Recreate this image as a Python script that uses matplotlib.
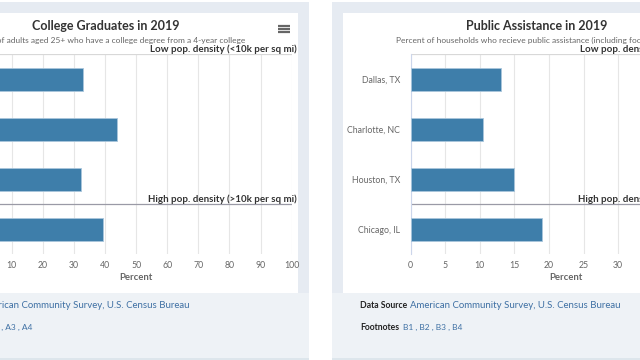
import matplotlib.pyplot as plt
from matplotlib.patches import Rectangle
from matplotlib.transforms import offset_copy

plt.rcParams['font.family'] = ['Lato', 'DejaVu Sans']

cities = ['Dallas, TX', 'Charlotte, NC', 'Houston, TX', 'Chicago, IL']
college = [33.0, 44.0, 32.4, 39.3]
assistance = [13.1, 10.4, 14.9, 19.0]
college_ticks = list(range(0, 101, 10))
assist_ticks = list(range(0, 46, 5))

BAR = '#3e7eaa'
GREY = '#666666'
DARK = '#333333'
LINK = '#3d6fa3'

fig = plt.figure(figsize=(6.4, 3.6), dpi=100)
fig.patch.set_facecolor('white')

# background layer in pixel coords (y down)
bg = fig.add_axes([0, 0, 1, 1], zorder=0)
bg.set_xlim(0, 640)
bg.set_ylim(360, 0)
bg.axis('off')


def card(x0, x1, panel_x0, panel_x1):
    bg.add_patch(Rectangle((x0, 2), x1 - x0, 291, color='#e6ebf2', lw=0))
    bg.add_patch(Rectangle((x0, 293), x1 - x0, 65, color='#eef2f6', lw=0))
    bg.add_patch(Rectangle((x0, 357.5), x1 - x0, 3, color='#dde6ec', lw=0))
    bg.add_patch(Rectangle((panel_x0, 13), panel_x1 - panel_x0, 280, color='white', lw=0))


card(-120, 309, -88, 298)
card(332, 760, 343, 730)

# hamburger icon
for yy in (25.5, 28.5, 31.5):
    bg.plot([278, 290], [yy, yy], color=GREY, lw=1.6, solid_capstyle='butt')


def px_axes(x0, y0, w, h):
    return fig.add_axes([x0 / 640, 1 - (y0 + h) / 360, w / 640, h / 360], zorder=2)


def chart(ax, values, ticks, xmax, title, subtitle, cx, panel_x0, sources):
    ax.barh(range(len(cities)), values, height=0.47, color=BAR,
            edgecolor='#a9c6dc', linewidth=0.6, zorder=3)
    ax.set_xlim(0, xmax)
    ax.set_ylim(3.5, -0.5)
    ax.set_xticks(ticks)
    ax.set_yticks(range(len(cities)))
    ax.set_yticklabels(cities)
    ax.grid(axis='x', color='#e6e6e6', lw=0.8, zorder=0)
    for s in ('top', 'right', 'bottom'):
        ax.spines[s].set_visible(False)
    ax.spines['left'].set_color('#ccd6eb')
    ax.tick_params(axis='both', length=0, labelsize=6.3, colors=GREY)
    ax.tick_params(axis='x', pad=5)
    ax.tick_params(axis='y', pad=7.5)
    ax.set_xlabel('Percent', fontsize=6.8, color=GREY, fontweight='bold', labelpad=2)
    ax.axhline(-0.5, color='#d8d8d8', lw=0.9, zorder=2)
    ax.axhline(2.5, color='#9a9aa6', lw=0.9, zorder=2)
    shifted = offset_copy(ax.get_yaxis_transform(), fig=fig, x=5, y=0, units='dots')
    ax.text(1, -0.5, 'Low pop. density (<10k per sq mi)', transform=shifted,
            ha='right', va='bottom', fontsize=7.0, fontweight='bold', color=DARK)
    ax.text(1, 2.5, 'High pop. density (>10k per sq mi)', transform=shifted,
            ha='right', va='bottom', fontsize=7.0, fontweight='bold', color=DARK)
    bg.text(cx, 26, title, ha='center', va='center', fontsize=9.0,
            fontweight='bold', color=DARK)
    bg.text(cx, 40, subtitle, ha='center', va='center', fontsize=6.0, color=GREY)
    bg.text(panel_x0 + 17, 306, 'Data Source', ha='left', va='center',
            fontsize=6.2, fontweight='bold', color='#222222')
    bg.text(panel_x0 + 67, 306, 'American Community Survey, U.S. Census Bureau',
            ha='left', va='center', fontsize=6.9, color=LINK)
    bg.text(panel_x0 + 17, 327, 'Footnotes', ha='left', va='center',
            fontsize=6.2, fontweight='bold', color='#222222')
    bg.text(panel_x0 + 60, 327, sources, ha='left', va='center',
            fontsize=6.0, color=LINK)


ax1 = px_axes(-19.4, 54.3, 311.1, 200)
chart(ax1, college, college_ticks, 100, 'College Graduates in 2019',
      'Percent of adults aged 25+ who have a college degree from a 4-year college',
      105.3, -88, 'A1 , A2 , A3 , A4')

ax2 = px_axes(410.7, 54.3, 311.1, 200)
chart(ax2, assistance, assist_ticks, 45, 'Public Assistance in 2019',
      'Percent of households who recieve public assistance (including food stamps)',
      536.3, 343, 'B1 , B2 , B3 , B4')

fig.savefig('out.png', dpi=100)
